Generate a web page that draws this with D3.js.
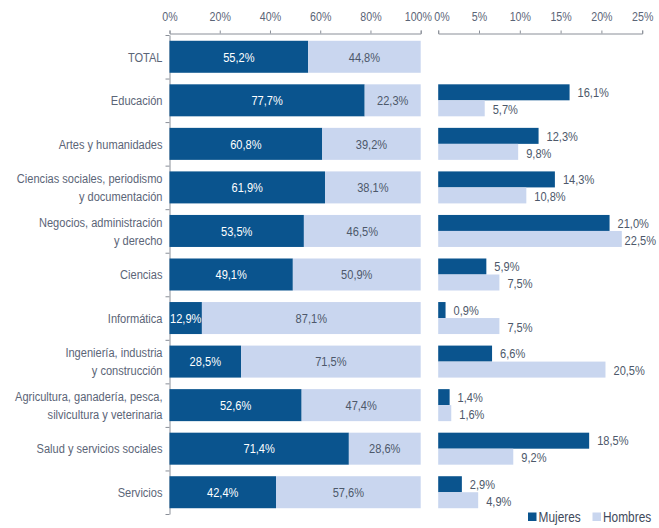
<!DOCTYPE html>
<html>
<head>
<meta charset="utf-8">
<script src="https://cdn.jsdelivr.net/npm/d3@7"></script>
<style>
  body { margin: 0; background: #fff; }
  text { font-family: "Liberation Sans", Arial, sans-serif; }
</style>
</head>
<body>
<script>
// Data
var categories = ["TOTAL", "Educación", "Artes y humanidades",
  "Ciencias sociales, periodismo\ny documentación", "Negocios, administración\ny derecho",
  "Ciencias", "Informática", "Ingeniería, industria\ny construcción",
  "Agricultura, ganadería, pesca,\nsilvicultura y veterinaria",
  "Salud y servicios sociales", "Servicios"];
var shareMujeres = [55.2, 77.7, 60.8, 61.9, 53.5, 49.1, 12.9, 28.5, 52.6, 71.4, 42.4];
var shareHombres = [44.8, 22.3, 39.2, 38.1, 46.5, 50.9, 87.1, 71.5, 47.4, 28.6, 57.6];
// distribution by field (no value for TOTAL)
var distMujeres = [null, 16.1, 12.3, 14.3, 21.0, 5.9, 0.9, 6.6, 1.4, 18.5, 2.9];
var distHombres = [null, 5.7, 9.8, 10.8, 22.5, 7.5, 7.5, 20.5, 1.6, 9.2, 4.9];
var leftTicks = [0, 20, 40, 60, 80, 100];
var rightTicks = [0, 5, 10, 15, 20, 25];
var legendLabels = ["Mujeres", "Hombres"];

var svgWidth = 659, svgHeight = 528;
var darkBlue = "#0a548e", lightBlue = "#c9d6ef";
var textColor = "#5b6577";
var squeeze = 0.82; // narrow font look

var es = d3.formatLocale({decimal: ",", thousands: ".", grouping: [3], currency: ["", "€"]});
var fmtPct = function(v) { return es.format(".1f")(v) + "%"; };

var svg = d3.select("body").append("svg")
  .attr("width", svgWidth)
  .attr("height", svgHeight);

var plotTop = 35, plotBottom = 514;

// Scales
var y = d3.scaleBand().domain(d3.range(categories.length))
  .range([plotTop, plotBottom]).paddingInner(0.265).paddingOuter(0.1325);
var yEdge = d3.scaleLinear().domain([0, categories.length]).range([plotTop, plotBottom]);
var xLeft = d3.scaleLinear().domain([0, 100]).range([169.5, 420.7]);
var xRight = d3.scaleLinear().domain([0, 25]).range([438.2, 642.2]);

// put text at (x, y) with a condensed look
function place(sel, fx, fy) {
  sel.attr("transform", function(d, i) {
    return `translate(${fx.call(this, d, i)}, ${fy.call(this, d, i)}) scale(${squeeze}, 1)`;
  });
}

// Axes
function styleAxis(g) {
  g.selectAll("path, line").attr("stroke", "#8a8f98");
  g.selectAll("text").attr("fill", textColor).style("font-size", "13px")
    .attr("transform", `scale(${squeeze}, 1)`);
}

// the two labels that meet in the middle are pushed apart a little
svg.append("g")
  .attr("transform", `translate(0, ${plotTop - 1.5})`)
  .call(d3.axisTop(xLeft).tickValues(leftTicks).tickSize(3).tickSizeOuter(3).tickPadding(10)
    .tickFormat(function(d) { return d + "%"; }))
  .call(styleAxis)
  .selectAll("text").attr("dx", function(d) { return d === 100 ? -3.5 : 0; });

svg.append("g")
  .attr("transform", `translate(0, ${plotTop - 1.5})`)
  .call(d3.axisTop(xRight).tickValues(rightTicks).tickSize(3).tickSizeOuter(3).tickPadding(10)
    .tickFormat(function(d) { return d + "%"; }))
  .call(styleAxis)
  .selectAll("text").attr("dx", function(d) { return d === 0 ? 4 : 0; });

svg.append("g")
  .attr("transform", `translate(${xLeft(0)}, 0)`)
  .call(d3.axisLeft(yEdge).tickValues(d3.range(categories.length + 1)).tickSize(4).tickSizeOuter(0)
    .tickFormat(""))
  .call(styleAxis);

// Category labels
var catLabels = svg.append("g").selectAll("text")
  .data(categories)
  .join("text")
  .attr("text-anchor", "end")
  .attr("fill", textColor)
  .style("font-size", "13.5px")
  .call(place, function() { return 162.5; }, function(d, i) { return y(i) + y.bandwidth() / 2; });

catLabels.each(function(d) {
  var lines = d.split("\n");
  var t = d3.select(this);
  lines.forEach(function(line, k) {
    t.append("tspan")
      .attr("x", 0)
      .attr("dy", k === 0 ? ((-(lines.length - 1) * 1.35 / 2) + 0.35) + "em" : "1.35em")
      .text(line);
  });
});

// Left stacked bars
var left = svg.append("g");
left.selectAll("rect.m").data(shareMujeres).join("rect")
  .attr("class", "m")
  .attr("x", xLeft(0))
  .attr("y", function(d, i) { return y(i); })
  .attr("width", function(d) { return xLeft(d) - xLeft(0); })
  .attr("height", y.bandwidth())
  .attr("fill", darkBlue);

left.selectAll("rect.h").data(shareHombres).join("rect")
  .attr("class", "h")
  .attr("x", function(d, i) { return xLeft(shareMujeres[i]); })
  .attr("y", function(d, i) { return y(i); })
  .attr("width", function(d, i) { return xLeft(shareMujeres[i] + d) - xLeft(shareMujeres[i]); })
  .attr("height", y.bandwidth())
  .attr("fill", lightBlue);

left.selectAll("text.m").data(shareMujeres).join("text")
  .attr("class", "m")
  .attr("dy", "0.35em")
  .attr("text-anchor", "middle")
  .attr("fill", "#fff")
  .style("font-size", "13.5px")
  .text(fmtPct)
  .call(place, function(d) { return xLeft(d / 2); }, function(d, i) { return y(i) + y.bandwidth() / 2; });

left.selectAll("text.h").data(shareHombres).join("text")
  .attr("class", "h")
  .attr("dy", "0.35em")
  .attr("text-anchor", "middle")
  .attr("fill", "#4d586a")
  .style("font-size", "13.5px")
  .text(fmtPct)
  .call(place, function(d, i) { return xLeft(shareMujeres[i] + d / 2); },
    function(d, i) { return y(i) + y.bandwidth() / 2; });

// Right grouped bars
var right = svg.append("g");
var half = y.bandwidth() / 2;

function drawRight(values, cls, color, offset) {
  var rows = values.map(function(v, i) { return {v: v, i: i}; }).filter(function(d) { return d.v !== null; });
  right.selectAll("rect." + cls).data(rows).join("rect")
    .attr("class", cls)
    .attr("x", xRight(0))
    .attr("y", function(d) { return y(d.i) + offset; })
    .attr("width", function(d) { return xRight(d.v) - xRight(0); })
    .attr("height", half)
    .attr("fill", color);

  right.selectAll("text." + cls).data(rows).join("text")
    .attr("class", cls)
    .attr("dy", "0.35em")
    .attr("fill", "#4d586a")
    .style("font-size", "13.5px")
    .text(function(d) { return fmtPct(d.v); })
    .call(place, function(d) {
      // keep labels inside the picture, as the original does
      var w = this.getComputedTextLength() * squeeze;
      return Math.min(xRight(d.v) + 8, svgWidth - 3 - w);
    }, function(d) { return y(d.i) + offset + half / 2 + (offset > 0 ? 1 : 0); });
}
drawRight(distMujeres, "m", darkBlue, 0);
drawRight(distHombres, "h", lightBlue, half);

// Legend
var legend = svg.append("g").attr("transform", "translate(528, 517)");
var legendX = [0, 64.5];
legend.selectAll("rect").data(legendLabels).join("rect")
  .attr("x", function(d, i) { return legendX[i]; })
  .attr("y", -4.5)
  .attr("width", 8.5)
  .attr("height", 8.5)
  .attr("fill", function(d, i) { return i === 0 ? darkBlue : lightBlue; });
legend.selectAll("text").data(legendLabels).join("text")
  .attr("dy", "0.35em")
  .attr("fill", "#3f4a5c")
  .style("font-size", "14.5px")
  .text(function(d) { return d; })
  .call(place, function(d, i) { return legendX[i] + 10.5; }, function() { return 0; });
</script>
</body>
</html>
